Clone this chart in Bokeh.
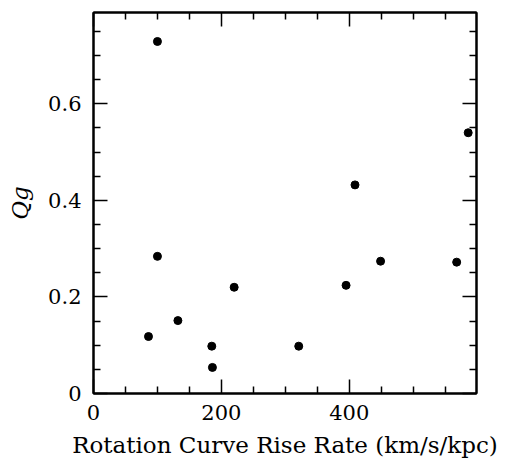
from bokeh.plotting import figure
from bokeh.models import FixedTicker, LinearAxis, Range1d
from bokeh.embed import file_html
from bokeh.resources import INLINE

rise_rate = [100, 86, 100, 132, 185, 186, 220, 321, 395, 409, 449, 568, 586]
q_g = [0.729, 0.118, 0.284, 0.151, 0.098, 0.054, 0.220, 0.098, 0.224, 0.432, 0.274, 0.272, 0.540]

x_ticks = [0, 200, 400]
x_minor = [50, 100, 150, 250, 300, 350, 450, 500, 550]
y_ticks = [0, 0.2, 0.4, 0.6]
y_minor = [0.05, 0.1, 0.15, 0.25, 0.3, 0.35, 0.45, 0.5, 0.55, 0.65, 0.7, 0.75]

FONT = "DejaVu Serif"

p = figure(width=504, height=460, output_backend="svg", toolbar_location=None,
           x_range=Range1d(0, 599), y_range=Range1d(0, 0.789),
           x_axis_location=None, y_axis_location=None,
           min_border_left=93, min_border_top=12, min_border_right=28, min_border_bottom=67)
p.xgrid.visible = False
p.ygrid.visible = False
p.outline_line_color = "black"
p.outline_line_width = 2
p.background_fill_color = "white"
p.border_fill_color = "white"

def style(ax, labels=True):
    ax.axis_line_width = 2
    ax.axis_line_color = "black"
    ax.major_tick_in = 14
    ax.major_tick_out = 0
    ax.minor_tick_in = 7
    ax.minor_tick_out = 0
    ax.major_tick_line_width = 1.5
    ax.minor_tick_line_width = 1.5
    ax.major_label_text_font = FONT
    ax.major_label_text_font_size = "21px"
    ax.major_label_text_color = "black"
    ax.axis_label_text_font = FONT
    ax.axis_label_text_font_size = "23px"
    ax.axis_label_text_font_style = "normal"
    ax.axis_label_text_color = "black"
    if not labels:
        ax.major_label_text_font_size = "0px"
        ax.major_label_text_alpha = 0

xb = LinearAxis(ticker=FixedTicker(ticks=x_ticks, minor_ticks=x_minor),
                axis_label="Rotation Curve Rise Rate (km/s/kpc)")
style(xb)
xb.major_label_standoff = 11
xb.axis_label_standoff = 9
p.add_layout(xb, "below")

yl = LinearAxis(ticker=FixedTicker(ticks=y_ticks, minor_ticks=y_minor),
                axis_label="Qg", major_label_overrides={0: "0"})
style(yl)
yl.major_label_standoff = 12
yl.axis_label_standoff = 12
yl.axis_label_text_font_style = "italic"
p.add_layout(yl, "left")

xt = LinearAxis(ticker=FixedTicker(ticks=x_ticks, minor_ticks=x_minor))
style(xt, labels=False)
p.add_layout(xt, "above")

yr = LinearAxis(ticker=FixedTicker(ticks=y_ticks, minor_ticks=y_minor))
style(yr, labels=False)
p.add_layout(yr, "right")

p.scatter(rise_rate, q_g, size=8, color="black")

open("out.html", "w").write(file_html(p, INLINE))
